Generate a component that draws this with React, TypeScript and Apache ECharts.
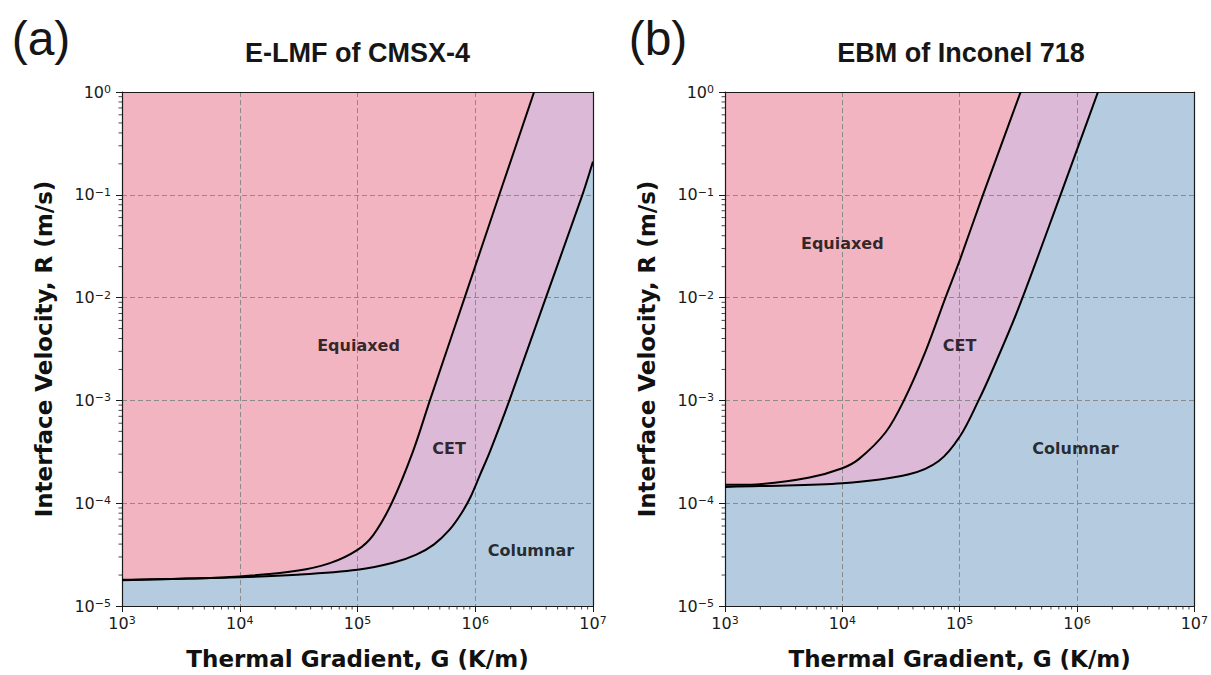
import React, { useEffect, useRef } from "react";
import * as echarts from "echarts";

// ---- Text ----
const panelLetters = ["(a)", "(b)"];
const panelTitles = ["E-LMF of CMSX-4", "EBM of Inconel 718"];
const xAxisTitle = "Thermal Gradient, G (K/m)";
const yAxisTitle = "Interface Velocity, R (m/s)";
const regionNames = ["Equiaxed", "CET", "Columnar"];

// ---- Axis ranges & ticks ----
const gRange = [1e3, 1e7];
const rRange = [1e-5, 1];
const gDecades = [1e3, 1e4, 1e5, 1e6];
const rDecades = [1e-5, 1e-4, 1e-3, 1e-2, 1e-1];
const minorMultipliers = [2, 3, 4, 5, 6, 7, 8, 9];

// ---- Curves: [G (K/m), R (m/s)] ----
// (a) E-LMF of CMSX-4
const cmsxEquiaxedLimit = [
  [1e3, 1.8e-5], [3.16e3, 1.84e-5], [1e4, 1.94e-5], [3.05e4, 2.2e-5], [5.83e4, 2.61e-5],
  [1e5, 3.52e-5], [1.36e5, 4.9e-5], [1.95e5, 1.0e-4], [2.95e5, 3.16e-4], [4.12e5, 1e-3],
  [8.13e5, 1e-2], [1.6e6, 1e-1], [3.16e6, 1],
];
const cmsxColumnarLimit = [
  [1e3, 1.78e-5], [1e4, 1.9e-5], [3.05e4, 2.01e-5], [1e5, 2.25e-5], [2.0e5, 2.63e-5],
  [3.16e5, 3.16e-5], [4.47e5, 3.98e-5], [6.03e5, 5.5e-5], [7.59e5, 7.9e-5], [9.12e5, 1.15e-4],
  [1.1e6, 1.9e-4], [1.33e6, 3.16e-4], [1.95e6, 1e-3], [3.98e6, 1e-2], [8.13e6, 1e-1], [1e7, 0.21],
];
// (b) EBM of Inconel 718
const inconelEquiaxedLimit = [
  [1e3, 1.51e-4], [1.98e3, 1.53e-4], [5.25e3, 1.78e-4], [1e4, 2.19e-4], [1.39e4, 2.7e-4],
  [2.34e4, 4.9e-4], [3.35e4, 1e-3], [5.12e4, 3.0e-3], [7.57e4, 1e-2],
  [1.01e5, 2.37e-2], [1.58e5, 1e-1], [3.31e5, 1],
];
const inconelColumnarLimit = [
  [1e3, 1.44e-4], [1.98e3, 1.47e-4], [1e4, 1.56e-4], [3.7e4, 1.91e-4], [6.64e4, 2.57e-4],
  [1.01e5, 4.5e-4], [1.45e5, 1e-3], [1.88e5, 1.91e-3], [3.16e5, 7.8e-3],
  [7.24e5, 1e-1], [1.51e6, 1],
];

// ---- Region label anchors [G, R] ----
const cmsxLabelAnchors = [[1.02e5, 3.4e-3], [6.0e5, 3.4e-4], [2.97e6, 3.45e-5]];
const inconelLabelAnchors = [[1.0e4, 3.35e-2], [1.0e5, 3.4e-3], [9.7e5, 3.4e-4]];

const COL_EQUIAXED = "#f2b4c0";
const COL_CET = "#dcb9d6";
const COL_COLUMNAR = "#b5cce0";
const INK = "#1a1a1a";

function supLabel(v: number) {
  const e = Math.round(Math.log10(v));
  const t = e < 0 ? "\u2212" + -e : String(e);
  return `{b|10}{s|${t}}`;
}

const tickRich = {
  b: { fontSize: 16, fontFamily: "DejaVu Sans", color: INK },
  s: { fontSize: 11, fontFamily: "DejaVu Sans", color: INK, verticalAlign: "top" as const },
};

// Smooth cubic path through pixel points (chord-length tangents)
function smoothPath(pts: number[][]): string {
  const n = pts.length;
  const dist = (a: number[], b: number[]) => Math.hypot(b[0] - a[0], b[1] - a[1]);
  const tang = pts.map((p, i) => {
    const prev = pts[Math.max(0, i - 1)];
    const next = pts[Math.min(n - 1, i + 1)];
    const len = dist(prev, p) + dist(p, next) || 1;
    return [(next[0] - prev[0]) / len, (next[1] - prev[1]) / len];
  });
  let s = `M${pts[0][0]},${pts[0][1]}`;
  for (let i = 0; i < n - 1; i++) {
    const a = pts[i];
    const b = pts[i + 1];
    const L = dist(a, b) / 3;
    s += ` C${a[0] + tang[i][0] * L},${a[1] + tang[i][1] * L} ${b[0] - tang[i + 1][0] * L},${b[1] - tang[i + 1][1] * L} ${b[0]},${b[1]}`;
  }
  return s;
}

function buildOption() {
  const grids = [
    { left: 122, top: 92, width: 471, height: 516 },
    { left: 725, top: 92, width: 472, height: 517 },
  ].map((g) => ({ ...g, show: true, backgroundColor: COL_COLUMNAR, borderWidth: 0 }));

  const xAxes: any[] = [];
  const yAxes: any[] = [];
  const series: any[] = [];

  const panels = [
    { up: cmsxEquiaxedLimit, low: cmsxColumnarLimit, labels: cmsxLabelAnchors },
    { up: inconelEquiaxedLimit, low: inconelColumnarLimit, labels: inconelLabelAnchors },
  ];

  const minorX = gDecades.flatMap((d) => minorMultipliers.map((m) => [d * m, rRange[0]]));
  const minorY = rDecades.flatMap((d) => minorMultipliers.map((m) => [gRange[0], d * m]));

  panels.forEach((p, i) => {
    const spine = { show: true, onZero: false, lineStyle: { color: INK, width: 1.2 } };
    const split = {
      show: true,
      showMinLine: false,
      showMaxLine: false,
      lineStyle: { color: "#8a8a8a", width: 1, type: [5, 3] },
    };
    xAxes.push({
      type: "log", logBase: 10, gridIndex: i, min: gRange[0], max: gRange[1], position: "bottom", z: 3,
      axisLine: spine,
      axisTick: { show: true, length: 6, lineStyle: { color: INK, width: 1 } },
      axisLabel: { formatter: supLabel, margin: 9, rich: tickRich },
      splitLine: split,
      name: xAxisTitle, nameLocation: "middle", nameGap: 41,
      nameTextStyle: { fontFamily: "DejaVu Sans", fontWeight: "bold", fontSize: 23, color: "#111" },
    });
    xAxes.push({
      type: "log", logBase: 10, gridIndex: i, min: gRange[0], max: gRange[1], position: "top", z: 3,
      axisLine: spine, axisTick: { show: false }, axisLabel: { show: false }, splitLine: { show: false },
    });
    yAxes.push({
      type: "log", logBase: 10, gridIndex: i, min: rRange[0], max: rRange[1], position: "left", z: 3,
      axisLine: spine,
      axisTick: { show: true, length: 6, lineStyle: { color: INK, width: 1 } },
      axisLabel: { formatter: supLabel, margin: 11, rich: tickRich },
      splitLine: split,
      name: yAxisTitle, nameLocation: "middle", nameGap: 67,
      nameTextStyle: { fontFamily: "DejaVu Sans", fontWeight: "bold", fontSize: 23, color: "#111" },
    });
    yAxes.push({
      type: "log", logBase: 10, gridIndex: i, min: rRange[0], max: rRange[1], position: "right", z: 3,
      axisLine: spine, axisTick: { show: false }, axisLabel: { show: false }, splitLine: { show: false },
    });
    const xi = i * 2;
    const yi = i * 2;

    const curvePx = (api: any, d: number[][]) => d.map((pt) => api.coord(pt));
    const regionAbove = (api: any, d: number[][]) => {
      const last = d[d.length - 1];
      const endTop = api.coord([last[0], rRange[1]]);
      const leftTop = api.coord([gRange[0], rRange[1]]);
      return `${smoothPath(curvePx(api, d))} L${endTop[0]},${endTop[1]} L${leftTop[0]},${leftTop[1]} Z`;
    };

    // Region fills (CET above columnar limit, Equiaxed above equiaxed limit)
    series.push({
      type: "custom", xAxisIndex: xi, yAxisIndex: yi, data: [[gRange[0], rRange[0]]], z: 2, silent: true, clip: true,
      renderItem: (_: any, api: any) => ({
        type: "group",
        children: [
          { type: "path", shape: { pathData: regionAbove(api, p.low) }, style: { fill: COL_CET } },
          { type: "path", shape: { pathData: regionAbove(api, p.up) }, style: { fill: COL_EQUIAXED } },
        ],
      }),
    });
    // Boundary lines
    series.push({
      type: "custom", xAxisIndex: xi, yAxisIndex: yi, data: [[gRange[0], rRange[0]]], z: 4, silent: true, clip: true,
      renderItem: (_: any, api: any) => ({
        type: "group",
        children: [p.low, p.up].map((d) => ({
          type: "path",
          shape: { pathData: smoothPath(curvePx(api, d)) },
          style: { fill: "none", stroke: "#000", lineWidth: 2 },
        })),
      }),
    });
    // Minor ticks
    series.push({
      type: "custom", xAxisIndex: xi, yAxisIndex: yi, data: minorX, z: 4, silent: true,
      renderItem: (_: any, api: any) => {
        const c = api.coord([api.value(0), api.value(1)]);
        return { type: "line", shape: { x1: c[0], y1: c[1], x2: c[0], y2: c[1] + 3.5 }, style: { stroke: INK, lineWidth: 0.8 } };
      },
    });
    series.push({
      type: "custom", xAxisIndex: xi, yAxisIndex: yi, data: minorY, z: 4, silent: true,
      renderItem: (_: any, api: any) => {
        const c = api.coord([api.value(0), api.value(1)]);
        return { type: "line", shape: { x1: c[0] - 3.5, y1: c[1], x2: c[0], y2: c[1] }, style: { stroke: INK, lineWidth: 0.8 } };
      },
    });
    // Region labels
    series.push({
      type: "scatter", xAxisIndex: xi, yAxisIndex: yi, symbolSize: 0, z: 5, silent: true,
      data: p.labels.map((v, k) => ({ name: regionNames[k], value: v })),
      label: {
        show: true, position: "inside", formatter: "{b}",
        fontFamily: "DejaVu Sans", fontWeight: "bold", fontSize: 16, color: "#000",
        textBorderWidth: 0,
      },
    });
  });

  const titleFont = (size: number, weight: string) => ({
    fontFamily: "Liberation Sans", fontSize: size, fontWeight: weight, fill: "#161616",
    align: "center", verticalAlign: "middle",
  });

  return {
    animation: false,
    backgroundColor: "#fff",
    grid: grids,
    xAxis: xAxes,
    yAxis: yAxes,
    series,
    graphic: [
      { type: "text", x: 41, y: 38, style: { text: panelLetters[0], ...titleFont(48, "normal") } },
      { type: "text", x: 658, y: 38, style: { text: panelLetters[1], ...titleFont(48, "normal") } },
      { type: "text", x: 357.5, y: 53, style: { text: panelTitles[0], ...titleFont(27, "bold") } },
      { type: "text", x: 961, y: 53, style: { text: panelTitles[1], ...titleFont(27, "bold") } },
    ],
  };
}

export default function App() {
  const ref = useRef<HTMLDivElement>(null);
  useEffect(() => {
    document.body.style.margin = "0";
    if (!ref.current) return;
    const chart = echarts.init(ref.current, undefined, { renderer: "svg" });
    chart.setOption(buildOption() as any);
    return () => chart.dispose();
  }, []);
  return <div ref={ref} style={{ width: 1211, height: 675 }} />;
}
